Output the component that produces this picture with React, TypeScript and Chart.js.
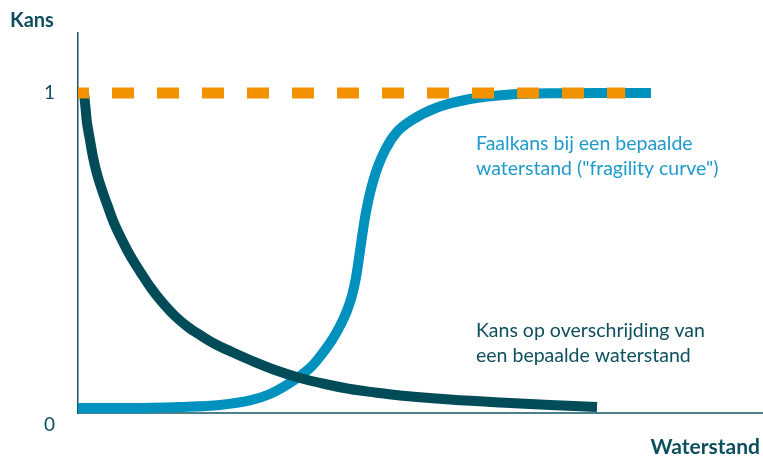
import React, { useEffect, useRef } from 'react';
import { Chart, registerables } from 'chart.js';

Chart.register(...registerables);

// Waterstand (x) and kans (y) values
const exceedX = [0.88, 1.1, 1.32, 1.75, 2.19, 2.78, 3.51, 4.39, 5.26, 6.43, 7.75, 9.21, 10.67, 12.28, 14.18, 16.08, 17.84, 20.03, 22.51, 25.15, 28.8, 32.46, 36.11, 39.77, 43.42, 47.08, 54.39, 61.7, 69.01, 75.88];
const exceedY = [1.0, 0.9531, 0.9063, 0.8531, 0.8, 0.7469, 0.6969, 0.6438, 0.5938, 0.5406, 0.4875, 0.4375, 0.3906, 0.3469, 0.3031, 0.2688, 0.2438, 0.2156, 0.1906, 0.1656, 0.1344, 0.1094, 0.0906, 0.075, 0.0641, 0.0547, 0.0422, 0.0328, 0.025, 0.0188];

const fragilityX = [0, 7.6, 14.91, 20.76, 25.15, 28.07, 30.26, 32.46, 34.21, 35.67, 37.13, 38.3, 39.33, 40.06, 40.64, 41.08, 41.52, 41.96, 42.54, 43.13, 43.96, 45.03, 46.59, 48.83, 52.49, 57.31, 63.16, 70.47, 76.32, 83.77];
const fragilityY = [0.0156, 0.0156, 0.0188, 0.025, 0.0391, 0.0594, 0.0844, 0.1156, 0.1469, 0.1844, 0.2281, 0.2719, 0.32, 0.3669, 0.4231, 0.4844, 0.55, 0.6109, 0.6734, 0.7234, 0.7769, 0.8272, 0.8772, 0.9156, 0.9547, 0.9813, 0.9953, 0.9994, 1.0, 1.0];

const certainX = [0, 80];
const certainY = [1, 1];

const yTickValues = [0, 1];
const yTickLabels = ['0', '1'];

const yAxisTitle = 'Kans';
const xAxisTitle = 'Waterstand';
const fragilityLabel = ['Faalkans bij een bepaalde', 'waterstand ("fragility curve")'];
const exceedLabel = ['Kans op overschrijding van', 'een bepaalde waterstand'];

const DARK = '#024c5a';
const BLUE = '#0092bf';
const ORANGE = '#f39200';
const TEXT_DARK = '#0e4f5d';
const TEXT_BLUE = '#1e9acb';
const FONT = 'Lato, "Open Sans", sans-serif';

const zip = (xs: number[], ys: number[]) => xs.map((x, i) => ({ x, y: ys[i] }));

const textPlugin = {
  id: 'texts',
  afterDraw(chart: any) {
    const ctx = chart.ctx;
    ctx.save();
    ctx.textBaseline = 'alphabetic';
    ctx.fillStyle = TEXT_DARK;
    ctx.font = `bold 20px ${FONT}`;
    ctx.textAlign = 'left';
    ctx.fillText(yAxisTitle, 10, 27);
    ctx.font = `bold 21px ${FONT}`;
    ctx.textAlign = 'right';
    ctx.fillText(xAxisTitle, 760, 454);

    ctx.font = `19.5px ${FONT}`;
    ctx.textAlign = 'left';
    ctx.fillStyle = TEXT_BLUE;
    fragilityLabel.forEach((t, i) => ctx.fillText(t, 476, 150 + i * 25));
    ctx.fillStyle = TEXT_DARK;
    exceedLabel.forEach((t, i) => ctx.fillText(t, 476, 337 + i * 25));
    ctx.restore();
  },
};

export default function App() {
  const ref = useRef<HTMLCanvasElement>(null);

  useEffect(() => {
    if (!ref.current) return;
    const chart = new Chart(ref.current, {
      type: 'line',
      data: {
        datasets: [
          {
            label: 'zekerheid',
            data: zip(certainX, certainY),
            borderColor: ORANGE,
            borderWidth: 11,
            borderDash: [22, 23],
            borderDashOffset: 11,
            pointRadius: 0,
            fill: false,
          },
          {
            label: 'overschrijding',
            data: zip(exceedX, exceedY),
            borderColor: DARK,
            borderWidth: 10,
            tension: 0.35,
            pointRadius: 0,
            fill: false,
          },
          {
            label: 'fragility',
            data: zip(fragilityX, fragilityY),
            borderColor: BLUE,
            borderWidth: 10,
            cubicInterpolationMode: 'monotone',
            pointRadius: 0,
            fill: false,
          },
        ],
      },
      options: {
        animation: false,
        responsive: false,
        events: [],
        layout: { padding: { top: 33, right: 1, left: 0, bottom: 0 } },
        plugins: {
          legend: { display: false },
          tooltip: { enabled: false },
          title: { display: false },
        },
        scales: {
          x: {
            type: 'linear',
            min: 0,
            max: 100,
            grid: { display: false, drawTicks: false },
            ticks: { display: false },
            border: { display: true, color: '#4f8088', width: 2 },
            afterFit: (s: any) => {
              s.height = 43;
              s.paddingLeft = 0;
              s.paddingRight = 0;
            },
          },
          y: {
            type: 'linear',
            min: 0,
            max: 1.1875,
            grid: { display: false, drawTicks: false },
            border: { display: true, color: '#1d5765', width: 1.5 },
            afterBuildTicks: (s: any) => {
              s.ticks = yTickValues.map((v) => ({ value: v }));
            },
            ticks: {
              padding: 23,
              color: TEXT_DARK,
              font: { family: FONT, size: 19, lineHeight: 1.3 },
              callback: (v: any) => {
                const i = yTickValues.indexOf(Number(v));
                const lbl = yTickLabels[i];
                return Number(v) === 0 ? ['', lbl] : lbl;
              },
            },
            afterFit: (s: any) => {
              s.width = 78;
              s.paddingTop = 0;
              s.paddingBottom = 0;
            },
          },
        },
      },
      plugins: [textPlugin],
    });
    return () => chart.destroy();
  }, []);

  return (
    <div style={{ position: 'absolute', left: 0, top: 0, width: 763, height: 456, background: '#fff' }}>
      <canvas ref={ref} width={763} height={456} />
    </div>
  );
}
